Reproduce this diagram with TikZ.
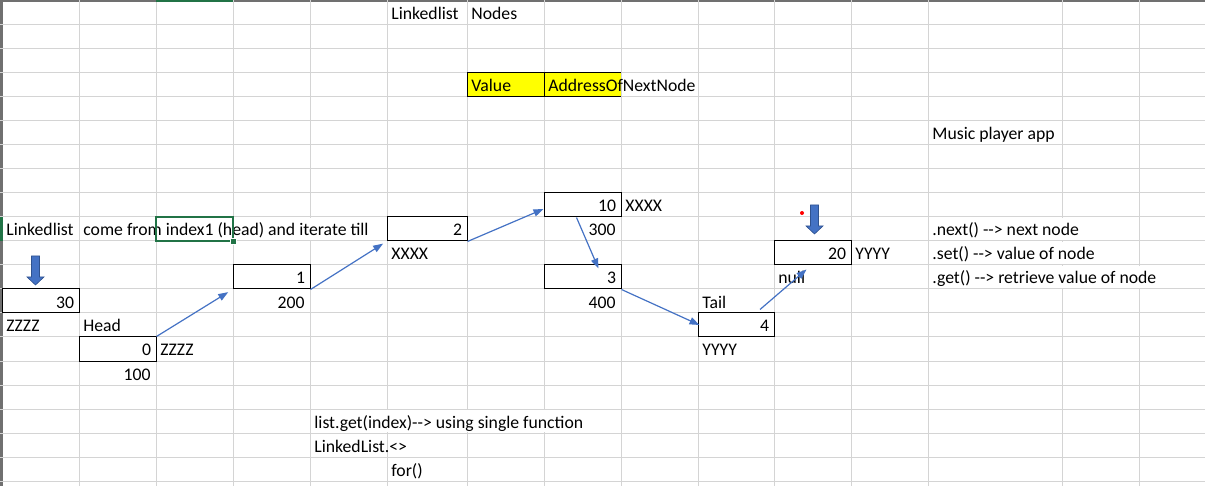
\documentclass[tikz,border=0pt]{standalone}
\usepackage{fontspec}
\setmainfont{Carlito}
\usepackage{xcolor}
\usepackage{tikz}
\usetikzlibrary{arrows.meta}
\definecolor{gridgrey}{HTML}{D4D4D4}
\definecolor{edgegrey}{HTML}{707070}
\definecolor{xlgreen}{HTML}{217346}
\definecolor{linkblue}{HTML}{4472C4}
\definecolor{linkdark}{HTML}{2F528F}
\definecolor{cellyellow}{HTML}{FFFF00}

\begin{document}
\begin{tikzpicture}[x=0.5pt, y=-0.5pt,
  every node/.style={font=\fontsize{8.85}{10}\selectfont},
  gridline/.style={draw=gridgrey, line width=0.5pt},
  celltext/.style={inner sep=0pt, anchor=base west},
  numtext/.style={inner sep=0pt, anchor=base east},
  spilltext/.style={celltext, fill=white, text height=9pt, text depth=2pt},
  cellbox/.style={draw=black, line width=0.5pt, inner xsep=2.5pt, inner ysep=0pt,
    text height=9.5pt, text depth=2.5pt, align=right, text width=#1},
  cellbox/.default=33.5pt,
  linkarrow/.style={draw=linkblue, line width=0.6pt, -{Triangle[length=5pt, width=3.6pt]}},
  blockarrow/.style={fill=linkblue, draw=linkdark, line width=0.3pt}]
\useasboundingbox (0,0) rectangle (1205,486);

\fill[edgegrey] (0,0) rectangle (1205,2);
\fill[edgegrey] (0,0) rectangle (3,486);
\foreach \gx in {79,156,233,310,387,467,544,621,698,774,851,928,1062,1139}
  \draw[gridline] (\gx,0) -- (\gx,486);
\foreach \gy in {25,49,...,481}
  \draw[gridline] (0,\gy) -- (1205,\gy);
\fill[xlgreen] (156,0) rectangle (233,2);
\fill[xlgreen] (0,217) rectangle (3,241);

\fill[cellyellow] (467,73) rectangle (621,97);
\draw[line width=0.5pt] (621,73) -- (467,73) -- (467,97) -- (621,97);
\draw[line width=0.5pt] (544,73) -- (544,97);

\node[celltext] (title) at (391,20) {Linkedlist};
\node[celltext] (titlenodes) at (471,20) {Nodes};
\node[celltext] (valhdr) at (471,92) {Value};
\node[celltext] (addrhdr) at (548,92) {AddressOfNextNode};
\node[celltext] (appname) at (932,140) {Music player app};

\node[cellbox] (box10) at (582.5,205) {10};
\node[cellbox] (box2) at (427,229) [cellbox=35pt] {2};
\node[cellbox] (box20) at (812.5,253) {20};
\node[cellbox] (box1) at (271.5,277) {1};
\node[cellbox] (box3) at (582.5,277) {3};
\node[cellbox] (box30) at (40.5,301) {30};
\node[cellbox] (box4) at (736,325) [cellbox=33pt] {4};
\node[cellbox] (box0) at (117.5,349) {0};

\node[celltext] (addr10) at (625,212) {XXXX};
\node[celltext] (lstlabel) at (6,236) {Linkedlist};
\node[spilltext] (iterate) at (83,236) {come from index1 (head) and iterate till};
\node[numtext] (at300) at (616,236) {300};
\node[spilltext] (nextfn) at (932,236) {.next() -{}-> next node};
\node[celltext] (addr2) at (391,260) {XXXX};
\node[celltext] (addr20) at (855,260) {YYYY};
\node[spilltext] (setfn) at (932,260) {.set() -{}-> value of node};
\node[celltext] (nulltxt) at (778,284) {null};
\node[spilltext] (getfn) at (932,284) {.get() -{}-> retrieve value of node};
\node[numtext] (at200) at (305,308) {200};
\node[numtext] (at400) at (616,308) {400};
\node[celltext] (tail) at (702,308) {Tail};
\node[celltext] (addr30) at (6,332) {ZZZZ};
\node[celltext] (head) at (83,332) {Head};
\node[celltext] (addr0) at (160,356) {ZZZZ};
\node[celltext] (addr4) at (702,356) {YYYY};
\node[numtext] (at100) at (151,380) {100};
\node[spilltext] (listget) at (314,428) {list.get(index)-{}-> using single function};
\node[celltext] (generic) at (314,452) {LinkedList.<>};
\node[celltext] (forloop) at (391,476) {for()};

\draw[linkarrow, shorten >=2.5pt] (box0.north east) -- (box1.south west);
\draw[linkarrow, shorten >=2pt] (box1.south east) -- (box2.south west);
\draw[linkarrow] (box2.south east) -- ([yshift=-2pt]box10.west);
\draw[linkarrow] ([xshift=-3pt]box10.south) -- ([xshift=8pt, yshift=-2pt]box3.north);
\draw[linkarrow] (box3.south east) -- ([xshift=1pt]box4.west);
\draw[linkarrow] ([xshift=12pt, yshift=1.5pt]box4.north) -- ([xshift=-3pt, yshift=-2pt]box20.south);

\draw[blockarrow] (31.5,256) -- (39.5,256) -- (39.5,277) -- (44,277) -- (35.5,285)
  -- (27,277) -- (31.5,277) -- cycle;
\draw[blockarrow] (810.5,205) -- (818.5,205) -- (818.5,226) -- (823,226) -- (814.5,234)
  -- (806,226) -- (810.5,226) -- cycle;
\fill[red] (802,213) circle (1pt);

\draw[xlgreen, line width=1pt] (156,217) rectangle (233,241);
\draw[white, fill=xlgreen, line width=0.3pt] (230,238) rectangle (236,244);
\end{tikzpicture}
\end{document}
